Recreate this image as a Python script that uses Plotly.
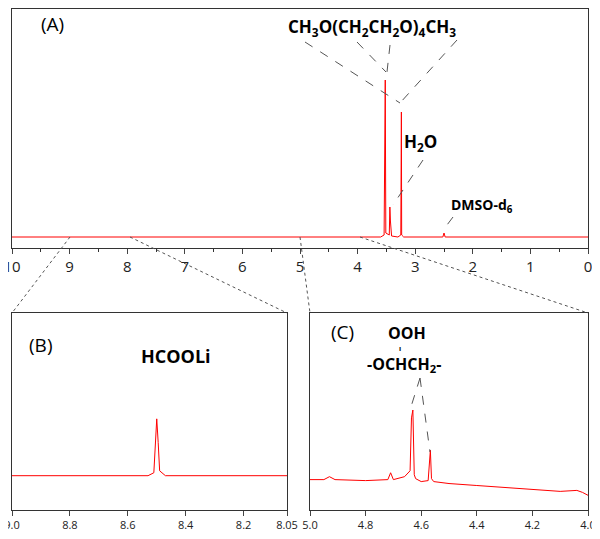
import plotly.graph_objects as go

# spectrum points: chemical shift (ppm) and intensity (arbitrary)
a_ppm = [10.0, 3.60, 3.54, 3.53, 3.52, 3.515, 3.51, 3.45, 3.44, 3.435, 3.43, 3.42, 3.41, 3.30, 3.25, 3.24, 3.235, 3.20, 2.52, 2.50, 2.48, 0.0]
a_int = [302, 302, 304, 420, 459, 380, 306, 304, 332, 326, 318, 306, 303, 302, 304, 427, 304, 302, 302, 306, 302, 302]

b_ppm = [9.0, 8.53, 8.51, 8.505, 8.50, 8.495, 8.49, 8.47, 8.05]
b_int = [61, 61, 64, 90, 119, 95, 66, 61, 61]

c_ppm = [5.0, 4.95, 4.93, 4.91, 4.80, 4.72, 4.71, 4.70, 4.66, 4.64, 4.635, 4.63, 4.625, 4.62, 4.60, 4.575, 4.567, 4.563, 4.555, 4.50, 4.40, 4.30, 4.20, 4.10, 4.04, 4.02, 4.0]
c_int = [57, 57, 60, 57, 56, 57, 64, 57, 60, 66, 120, 128, 62, 58, 55, 56, 87, 58, 55, 53, 51, 49, 47, 45, 46, 44, 41]

a_ticks = list(range(0, 11))
b_ticks = [9.0, 8.8, 8.6, 8.4, 8.2, 8.05]
b_labels = ["9.0", "8.8", "8.6", "8.4", "8.2", "8.05"]
c_ticks = [5.0, 4.8, 4.6, 4.4, 4.2, 4.0]

# the page is shown with an 8px body margin
OFF = 8
W, H = 600 - 2 * OFF, 539 - 2 * OFF
def fx(p):
    return min(1, max(0, (p - OFF) / W))
def fy(p):
    return min(1, max(0, 1 - (p - OFF) / H))

FONT = "Open Sans, Liberation Sans, sans-serif"
RED = "#ff0000"

fig = go.Figure()
fig.add_trace(go.Scatter(x=a_ppm, y=a_int, mode="lines", line=dict(color=RED, width=1), xaxis="x", yaxis="y"))
fig.add_trace(go.Scatter(x=b_ppm, y=b_int, mode="lines", line=dict(color=RED, width=1), xaxis="x2", yaxis="y2"))
fig.add_trace(go.Scatter(x=c_ppm, y=c_int, mode="lines", line=dict(color=RED, width=1), xaxis="x3", yaxis="y3"))

box = dict(showline=True, mirror=True, linecolor="#333", linewidth=1, showgrid=False, zeroline=False, automargin=False)
xa = dict(box, ticks="outside", ticklen=5, ticklabeloverflow="allow",
          tickfont=dict(size=15, family=FONT, color="#222"))
ya = dict(box, showticklabels=False, ticks="")
small = dict(size=11, family=FONT, color="#222")

fig.update_layout(
    width=W, height=H, showlegend=False,
    paper_bgcolor="white", plot_bgcolor="white",
    margin=dict(l=0, r=0, t=0, b=0),
    xaxis=dict(xa, domain=[fx(12), fx(588)], range=[10, 0], tickvals=a_ticks, anchor="y",
               minor=dict(ticks="outside", ticklen=3, dtick=0.5, tickcolor="#333")),
    yaxis=dict(ya, domain=[fy(248), fy(9)], range=[291, 530], anchor="x"),
    xaxis2=dict(xa, domain=[fx(12), fx(287)], range=[9.0, 8.05], tickvals=b_ticks, ticktext=b_labels,
                tickfont=small, anchor="y2"),
    yaxis2=dict(ya, domain=[fy(510), fy(313)], range=[26, 227], anchor="x2"),
    xaxis3=dict(xa, domain=[fx(310), fx(588)], range=[5.0, 4.0], tickvals=c_ticks, tickformat=".1f",
                tickfont=small, anchor="y3"),
    yaxis3=dict(ya, domain=[fy(510), fy(313)], range=[26, 227], anchor="x3"),
)

def dotted(x0, y0, x1, y1, dash="dot"):
    fig.add_shape(type="line", xref="paper", yref="paper", x0=fx(x0), y0=fy(y0), x1=fx(x1), y1=fy(y1),
                  line=dict(color="#555", width=1, dash=dash))

# zoom connectors
dotted(70, 237, 12, 313)
dotted(130, 237, 287, 313)
dotted(300, 237, 310, 313)
dotted(360, 237, 588, 313)
# peak labels
dotted(305, 42, 400, 103, "dash")
dotted(357, 42, 386, 72, "dash")
dotted(390, 45, 387, 72, "dash")
dotted(457, 40, 400, 103, "dash")
dotted(423, 160, 393, 205, "dash")
dotted(453, 217, 444, 229, "dash")
dotted(420, 378, 410, 410, "dash")
dotted(420, 378, 430, 452, "dash")

def text(t, x, y, size, bold=False):
    fig.add_annotation(xref="paper", yref="paper", x=fx(x), y=fy(y), xanchor="center", yanchor="middle",
                       text=f"<b>{t}</b>" if bold else t,
                       showarrow=False, font=dict(size=size, family=FONT, color="black"))

text("(A)", 52, 24, 19)
text("CH<sub>3</sub>O(CH<sub>2</sub>CH<sub>2</sub>O)<sub>4</sub>CH<sub>3</sub>", 372, 28, 17, True)
text("H<sub>2</sub>O", 420, 143, 17, True)
text("DMSO-d<sub>6</sub>", 482, 206, 14, True)
text("(B)", 40, 345, 19)
text("HCOOLi", 176, 356, 18, True)
text("(C)", 342, 332, 19)
text("OOH", 407, 333, 16, True)
text("ı", 400, 348, 7, True)
text("-OCHCH<sub>2</sub>-", 404, 364, 16, True)

fig.write_html("out.html")
